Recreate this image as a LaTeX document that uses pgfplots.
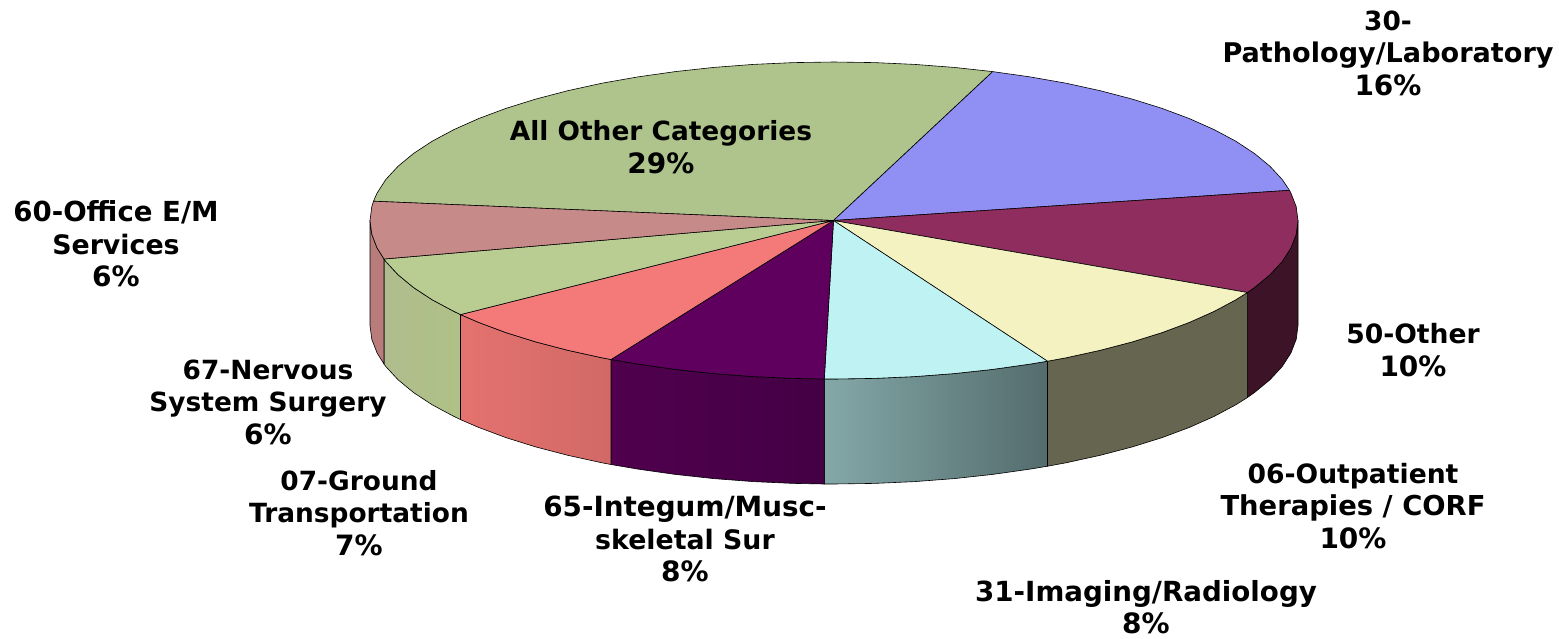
\documentclass[border=0pt]{standalone}
\usepackage{pgfplots}
\pgfplotsset{compat=1.18}
\usepackage{fontspec}
\setmainfont{DejaVu Sans}
\definecolor{tOther}{HTML}{AFC38C}
\definecolor{tPath}{HTML}{9090F4}
\definecolor{tFifty}{HTML}{8E2D5E}
\definecolor{tSix}{HTML}{F3F2C0}
\definecolor{tImg}{HTML}{BFF3F3}
\definecolor{tInt}{HTML}{5F005F}
\definecolor{tGrd}{HTML}{F47A7A}
\definecolor{tNerv}{HTML}{B9CC92}
\definecolor{tOff}{HTML}{C68A88}
\tikzset{lab/.style={font=\fontsize{26.4}{32.5}\selectfont\bfseries,align=center,anchor=center,inner sep=0pt}}
\newcommand{\sz}[2]{{\fontsize{#1}{32.5}\selectfont\bfseries #2}}
\begin{document}
\begin{tikzpicture}
\begin{axis}[
  width=1559pt,height=638pt,scale only axis,
  xmin=0,xmax=1559,ymin=0,ymax=638,y dir=reverse,
  axis lines=none,clip=false,
  every axis plot/.append style={no markers,draw=black,line width=0.6pt,line join=round}
]
\path (rel axis cs:0,0) rectangle (rel axis cs:1,1);
% sides
\addplot[fill={rgb,255:red,61;green,19;blue,40}] coordinates {(1298,220.5)(1296.2,234.3)(1290.9,248)(1282.2,261.5)(1270,274.7)(1254.5,287.5)(1247.4,292.5)(1247.4,397.5)(1254.5,392.5)(1270,379.7)(1282.2,366.5)(1290.9,353)(1296.2,339.3)(1298,325.5)} -- cycle;
\addplot[fill={rgb,255:red,102;green,101;blue,79}] coordinates {(1247.4,292.5)(1235.8,299.8)(1214.1,311.4)(1189.4,322.4)(1162.1,332.6)(1132.3,341.9)(1100.2,350.3)(1066,357.8)(1047.5,361.2)(1047.5,466.2)(1066,462.8)(1100.2,455.3)(1132.3,446.9)(1162.1,437.6)(1189.4,427.4)(1214.1,416.4)(1235.8,404.8)(1247.4,397.5)} -- cycle;
\addplot[left color={rgb,255:red,132;green,168;blue,168},right color={rgb,255:red,84;green,108;blue,109}] coordinates {(1047.5,361.2)(1030.1,364.1)(992.7,369.4)(954.1,373.6)(914.6,376.6)(874.5,378.4)(834,379)(824.3,379)(824.3,484)(834,484)(874.5,483.4)(914.6,481.6)(954.1,478.6)(992.7,474.4)(1030.1,469.1)(1047.5,466.2)} -- cycle;
\addplot[left color={rgb,255:red,80;green,0;blue,78},right color={rgb,255:red,68;green,0;blue,68}] coordinates {(824.3,379)(793.5,378.4)(753.4,376.6)(713.9,373.6)(675.3,369.4)(637.9,364.1)(611,359.5)(611,464.5)(637.9,469.1)(675.3,474.4)(713.9,478.6)(753.4,481.6)(793.5,483.4)(824.3,484)} -- cycle;
\addplot[left color={rgb,255:red,228;green,114;blue,111},right color={rgb,255:red,210;green,105;blue,102}] coordinates {(611,359.5)(602,357.8)(567.8,350.3)(535.7,341.9)(505.9,332.6)(478.6,322.4)(460.5,314.6)(460.5,419.6)(478.6,427.4)(505.9,437.6)(535.7,446.9)(567.8,455.3)(602,462.8)(611,464.5)} -- cycle;
\addplot[left color={rgb,255:red,176;green,188;blue,142},right color={rgb,255:red,175;green,193;blue,134}] coordinates {(460.5,314.6)(453.9,311.4)(432.2,299.8)(413.5,287.5)(398,274.7)(385.8,261.5)(384,259)(384,364)(385.8,366.5)(398,379.7)(413.5,392.5)(432.2,404.8)(453.9,416.4)(460.5,419.6)} -- cycle;
\addplot[fill={rgb,255:red,184;green,125;blue,122}] coordinates {(384,259)(377.1,248)(371.8,234.3)(370,220.5)(370,325.5)(371.8,339.3)(377.1,353)(384,364)} -- cycle;
% top
\addplot[fill=tOther] coordinates {(833.5,220.5)(373.5,201.2)(377.1,193)(385.8,179.5)(398,166.3)(413.5,153.5)(432.2,141.2)(453.9,129.6)(478.6,118.6)(505.9,108.4)(535.7,99.1)(567.8,90.7)(602,83.2)(637.9,76.9)(675.3,71.6)(713.9,67.4)(753.4,64.4)(793.5,62.6)(834,62)(874.5,62.6)(914.6,64.4)(954.1,67.4)(992.7,71.6)} -- cycle;
\addplot[fill=tPath] coordinates {(833.5,220.5)(992.7,71.6)(1030.1,76.9)(1066,83.2)(1100.2,90.7)(1132.3,99.1)(1162.1,108.4)(1189.4,118.6)(1214.1,129.6)(1235.8,141.2)(1254.5,153.5)(1270,166.3)(1282.2,179.5)(1289.5,190.3)} -- cycle;
\addplot[fill=tFifty] coordinates {(833.5,220.5)(1289.5,190.3)(1290.9,193)(1296.2,206.7)(1298,220.5)(1296.2,234.3)(1290.9,248)(1282.2,261.5)(1270,274.7)(1254.5,287.5)(1247.4,292.5)} -- cycle;
\addplot[fill=tSix] coordinates {(833.5,220.5)(1247.4,292.5)(1235.8,299.8)(1214.1,311.4)(1189.4,322.4)(1162.1,332.6)(1132.3,341.9)(1100.2,350.3)(1066,357.8)(1047.5,361.2)} -- cycle;
\addplot[fill=tImg] coordinates {(833.5,220.5)(1047.5,361.2)(1030.1,364.1)(992.7,369.4)(954.1,373.6)(914.6,376.6)(874.5,378.4)(834,379)(824.3,379)} -- cycle;
\addplot[fill=tInt] coordinates {(833.5,220.5)(824.3,379)(793.5,378.4)(753.4,376.6)(713.9,373.6)(675.3,369.4)(637.9,364.1)(611,359.5)} -- cycle;
\addplot[fill=tGrd] coordinates {(833.5,220.5)(611,359.5)(602,357.8)(567.8,350.3)(535.7,341.9)(505.9,332.6)(478.6,322.4)(460.5,314.6)} -- cycle;
\addplot[fill=tNerv] coordinates {(833.5,220.5)(460.5,314.6)(453.9,311.4)(432.2,299.8)(413.5,287.5)(398,274.7)(385.8,261.5)(384,259)} -- cycle;
\addplot[fill=tOff] coordinates {(833.5,220.5)(384,259)(377.1,248)(371.8,234.3)(370,220.5)(371.8,206.7)(373.5,201.2)} -- cycle;
% labels
\node[lab] at (axis cs:1388,53) {30-\\\sz{27.1}{Pathology/Laboratory}\\\sz{28}{16\%}};
\node[lab] at (axis cs:661,147) {All Other Categories\\\sz{28}{29\%}};
\node[lab] at (axis cs:116,244) {\sz{27.6}{60-Office E/M}\\\sz{26.8}{Services}\\\sz{28}{6\%}};
\node[lab] at (axis cs:1413,350) {\sz{26.6}{50-Other}\\\sz{28}{10\%}};
\node[lab] at (axis cs:1353,506) {\sz{26.6}{06-Outpatient}\\\sz{27.4}{Therapies / CORF}\\\sz{28}{10\%}};
\node[lab] at (axis cs:1146,607) {\sz{27.7}{31-Imaging/Radiology}\\\sz{28}{8\%}};
\node[lab] at (axis cs:685,539) {\sz{27.8}{65-Integum/Musc-}\\\sz{26.8}{skeletal Sur}\\\sz{28}{8\%}};
\node[lab] at (axis cs:359,513) {07-Ground\\Transportation\\\sz{28}{7\%}};
\node[lab] at (axis cs:268,402) {67-Nervous\\System Surgery\\\sz{28}{6\%}};
\end{axis}
\end{tikzpicture}
\end{document}
